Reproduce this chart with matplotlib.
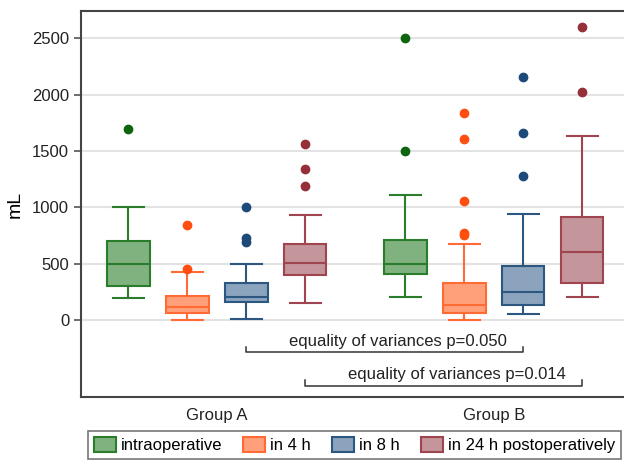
import matplotlib
matplotlib.use('Agg')
import matplotlib.pyplot as plt
from matplotlib.patches import Patch

plt.rcParams['font.family'] = ['Liberation Sans', 'DejaVu Sans']

# categories
groups = ['Group A', 'Group B']
times = ['intraoperative', 'in 4 h', 'in 8 h', 'in 24 h postoperatively']

# box statistics per group, in order of times (mL)
medians = [[500, 118, 208, 506], [497, 134, 250, 604]]
q1s = [[300, 60, 164, 396], [405, 65, 137, 333]]
q3s = [[705, 212, 330, 676], [708, 330, 482, 917]]
whis_lo = [[200, 0, 9, 155], [205, 3, 51, 205]]
whis_hi = [[1000, 430, 500, 935], [1107, 672, 946, 1637]]
outliers = [
    [[1700], [450, 848], [690, 729, 1003], [1193, 1339, 1560]],
    [[1503, 2500], [756, 774, 1056, 1607, 1836], [1283, 1664, 2161], [2024, 2601]],
]

# variance comparisons: (time index, label)
comparisons = [(2, 'equality of variances p=0.050'), (3, 'equality of variances p=0.014')]

fills = ['#80b280', '#ffa07a', '#8ba3bd', '#c4959b']
edges = ['#2a7d2a', '#ff6a35', '#2b5780', '#a0444f']
dots = ['#0d650d', '#ff4f10', '#1d4a78', '#952f3a']

fig = plt.figure(figsize=(6.24, 4.62), dpi=100)
ax = fig.add_axes([0.1298, 0.1407, 0.8802, 0.835])

group_gap = 4.7
for g in range(len(groups)):
    for i in range(len(times)):
        pos = g * group_gap + i
        st = [{'med': medians[g][i], 'q1': q1s[g][i], 'q3': q3s[g][i],
               'whislo': whis_lo[g][i], 'whishi': whis_hi[g][i],
               'fliers': outliers[g][i]}]
        ax.bxp(st, positions=[pos], widths=0.72, capwidths=0.52, patch_artist=True,
               boxprops=dict(facecolor=fills[i], edgecolor=edges[i], linewidth=1.5),
               medianprops=dict(color=edges[i], linewidth=1.5),
               whiskerprops=dict(color=edges[i], linewidth=1.5),
               capprops=dict(color=edges[i], linewidth=1.5),
               flierprops=dict(marker='o', markerfacecolor=dots[i], markeredgecolor=dots[i],
                               markersize=6),
               manage_ticks=False, zorder=3)

# brackets for variance tests
bracket_y = [-287, -586]
for (i, label), by in zip(comparisons, bracket_y):
    x0 = i
    x1 = group_gap + i
    ax.plot([x0, x0, x1, x1], [by + 50, by, by, by + 50], color='#333333', lw=1.1)
    ax.text((x0 + x1) / 2 + 0.22, by + 100, label, ha='center', va='center',
            fontsize=12, color='#222222')

ax.set_xlim(-0.805, 8.515)
ax.set_ylim(-683, 2742)
ax.set_yticks(range(0, 2501, 500))
ax.yaxis.grid(True, color='#e3e3e3', lw=1.5)
ax.set_axisbelow(True)
ax.set_xticks([1.5, group_gap + 1.5])
ax.set_xticklabels(groups)
ax.tick_params(axis='x', length=0, labelsize=12, pad=8, colors='#222222')
ax.tick_params(axis='y', length=5, width=1.2, labelsize=12, colors='#555555',
               labelcolor='#222222')
ax.set_ylabel('mL', fontsize=14, labelpad=6)
for side in ['left', 'top', 'bottom']:
    ax.spines[side].set_color('#444444')
    ax.spines[side].set_linewidth(1.5)
ax.spines['right'].set_visible(False)

handles = [Patch(facecolor=fills[i], edgecolor=edges[i], linewidth=1.5) for i in range(len(times))]
leg = fig.legend(handles, times, loc='upper center', bbox_to_anchor=(0.568, 0.0671),
                 ncol=4, fontsize=12, frameon=True, fancybox=False, handlelength=1.32,
                 handleheight=1.0, handletextpad=0.3, columnspacing=1.25,
                 borderpad=0.35, borderaxespad=0)
leg.get_frame().set_edgecolor('#555555')
leg.get_frame().set_linewidth(1.2)

fig.savefig('out.png', dpi=100)
